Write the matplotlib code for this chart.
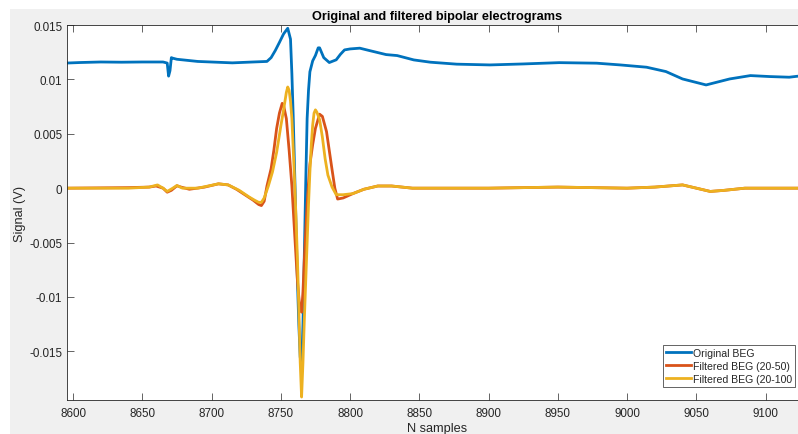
import matplotlib
matplotlib.use("Agg")
import matplotlib.pyplot as plt
from matplotlib.patches import Rectangle

plt.rcParams['font.family'] = ['Liberation Sans', 'DejaVu Sans']

# Original bipolar electrogram (V) at selected sample indices
orig_n = [8595, 8605, 8620, 8635, 8650, 8665, 8668, 8669, 8670, 8671, 8672, 8675,
          8690, 8715, 8730, 8740, 8743, 8746, 8749, 8752, 8755, 8757, 8758, 8759,
          8760, 8761, 8762, 8763, 8764, 8765, 8766, 8767, 8768, 8769, 8770, 8771,
          8773, 8775, 8777, 8778, 8781, 8785, 8790, 8793, 8796, 8800, 8807, 8814,
          8826, 8834, 8846, 8858, 8877, 8901, 8925, 8951, 8978, 8995, 9014, 9028,
          9040, 9057, 9074, 9089, 9103, 9117, 9125]
orig_v = [0.01150, 0.01155, 0.01160, 0.01158, 0.01160, 0.01160, 0.01150, 0.01030,
          0.01080, 0.01200, 0.01195, 0.01185, 0.01165, 0.01152, 0.01160, 0.01165,
          0.01200, 0.01265, 0.01340, 0.01418, 0.01470, 0.01370, 0.01050, 0.00640,
          0.00150, -0.00350, -0.00850, -0.01250, -0.01550, -0.01660, -0.01250,
          -0.00600, 0.00050, 0.00640, 0.00900, 0.01070, 0.01170, 0.01220, 0.01290,
          0.01290, 0.01200, 0.01155, 0.01180, 0.01230, 0.01271, 0.01280, 0.01287,
          0.01265, 0.01228, 0.01219, 0.01179, 0.01158, 0.01140, 0.01133, 0.01142,
          0.01154, 0.01149, 0.01133, 0.01112, 0.01072, 0.01004, 0.00949, 0.01004,
          0.01035, 0.01026, 0.01020, 0.01032]

# Band-pass filtered electrogram, 20-50 Hz
f50_n = [8595, 8640, 8655, 8660, 8665, 8668, 8671, 8675, 8678, 8684, 8695, 8705,
         8712, 8718, 8724, 8730, 8734, 8736, 8738, 8740, 8743, 8745, 8747, 8749,
         8751, 8752, 8754, 8756, 8758, 8760, 8762, 8763, 8764, 8765, 8766, 8767,
         8769, 8770, 8771, 8773, 8775, 8778, 8780, 8783, 8787, 8789, 8791, 8795,
         8802, 8810, 8820, 8830, 8845, 8900, 8950, 9000, 9020, 9040, 9050, 9060,
         9070, 9085, 9125]
f50_v = [0.0, 0.00005, 0.0001, 0.0002, 0.0, -0.00037, -0.0002, 0.00022, 0.0001,
         -0.0001, 0.0001, 0.0004, 0.0003, -0.0001, -0.0006, -0.0011, -0.0015,
         -0.0016, -0.0012, 0.0002, 0.0018, 0.0035, 0.0055, 0.0069, 0.0078, 0.0076,
         0.0064, 0.0035, 0.0002, -0.0042, -0.0085, -0.0100, -0.0112, -0.0114,
         -0.0095, -0.0065, -0.0015, 0.0005, 0.0022, 0.0040, 0.0055, 0.0068, 0.0066,
         0.0052, 0.0017, 0.0000, -0.0010, -0.0009, -0.0005, -0.0001, 0.0002, 0.0002,
         0.0, 0.0, 0.0001, 0.0, 0.0001, 0.0003, 0.0, -0.0003, -0.0002, 0.0, 0.0]

# Band-pass filtered electrogram, 20-100 Hz
f100_n = [8595, 8640, 8655, 8661, 8665, 8668, 8672, 8675, 8679, 8690, 8705, 8712,
          8720, 8727, 8731, 8734, 8736, 8738, 8741, 8744, 8747, 8750, 8752, 8754,
          8755, 8756, 8757, 8758, 8759, 8760, 8761, 8762, 8763, 8764, 8765, 8766,
          8767, 8768, 8769, 8770, 8771, 8772, 8773, 8774, 8775, 8776, 8778, 8780,
          8782, 8784, 8787, 8790, 8795, 8802, 8810, 8820, 8830, 8845, 8900, 8950,
          9000, 9020, 9040, 9050, 9060, 9070, 9085, 9125]
f100_v = [0.0, 0.0, 0.0001, 0.0003, 0.0, -0.0003, 0.0, 0.00025, 0.0, 0.0, 0.0004,
          0.0003, -0.0002, -0.0008, -0.0011, -0.0013, -0.0013, -0.0009, 0.0002,
          0.0015, 0.0033, 0.0057, 0.0072, 0.0088, 0.0093, 0.0090, 0.0080, 0.0064,
          0.0035, 0.0005, -0.0028, -0.0065, -0.0110, -0.0160, -0.0192, -0.0160,
          -0.0120, -0.0085, -0.0050, -0.0015, 0.0015, 0.0040, 0.0058, 0.0069,
          0.0072, 0.0070, 0.0063, 0.0047, 0.0027, 0.0012, 0.0001, -0.0006, -0.0006,
          -0.0005, -0.0001, 0.0002, 0.0002, 0.0, 0.0, 0.0001, 0.0, 0.0001, 0.0003,
          0.0, -0.0003, -0.0002, 0.0, 0.0]

labels = ['Original BEG', 'Filtered BEG (20-50)', 'Filtered BEG (20-100']
colors = ['#0072BD', '#D95319', '#EDB120']
xticks = [8600, 8650, 8700, 8750, 8800, 8850, 8900, 8950, 9000, 9050, 9100]
yticks = [-0.015, -0.01, -0.005, 0, 0.005, 0.01, 0.015]
yticklabels = ['-0.015', '-0.01', '-0.005', '0', '0.005', '0.01', '0.015']

W, H = 798, 435
fig = plt.figure(figsize=(W / 100, H / 100), dpi=100, facecolor='#f0f0f0')
# white border strip at top and left
fig.patches.append(Rectangle((0, 1 - 10 / H), 1, 10 / H, transform=fig.transFigure,
                             facecolor='white', edgecolor='none', zorder=0))
fig.patches.append(Rectangle((0, 0), 10 / W, 1, transform=fig.transFigure,
                             facecolor='white', edgecolor='none', zorder=0))

ax_l, ax_r, ax_t, ax_b = 66.5, 807.5, 26.0, 401.3
ax = fig.add_axes([ax_l / W, 1 - ax_b / H, (ax_r - ax_l) / W, (ax_b - ax_t) / H])
ax.set_facecolor('white')

for n, v, c, lab in zip([orig_n, f50_n, f100_n], [orig_v, f50_v, f100_v], colors, labels):
    ax.plot(n, v, color=c, lw=2.0, label=lab, solid_joinstyle='round')

ax.set_xlim(8595.3, 9130.2)
ax.set_ylim(-0.0195, 0.015)
ax.set_xticks(xticks)
ax.set_xticklabels([str(t) for t in xticks])
ax.set_yticks(yticks)
ax.set_yticklabels(yticklabels)

tc = '#262626'
ax.tick_params(direction='in', length=5, width=0.5, color=tc, labelcolor=tc,
               labelsize=8.35, top=True, right=True, pad=4.5)
ax.tick_params(axis='y', pad=3)
for s in ax.spines.values():
    s.set_color(tc)
    s.set_linewidth(0.6)

ax.set_title('Original and filtered bipolar electrograms', fontsize=9.2,
             fontweight='bold', color='black', pad=4)
ax.set_xlabel('N samples', fontsize=9.2, color=tc)
ax.set_ylabel('Signal (V)', fontsize=9.2, color=tc)
ax.xaxis.set_label_coords((437 - ax_l) / (ax_r - ax_l), -(423 - ax_b) / (ax_b - ax_t))
ax.yaxis.set_label_coords(-(ax_l - 25.5) / (ax_r - ax_l), 0.5)

leg = ax.legend(loc='upper left', bbox_to_anchor=(662.7 / W, 1 - 345.7 / H),
                bbox_transform=fig.transFigure, borderaxespad=0, fontsize=7.6,
                handlelength=2.4, handletextpad=0.15, labelspacing=0.28,
                borderpad=0.32, fancybox=False, framealpha=1)
leg.get_frame().set_edgecolor(tc)
leg.get_frame().set_linewidth(0.5)
for t in leg.get_texts():
    t.set_color(tc)

fig.savefig('out.png', dpi=100, facecolor=fig.get_facecolor())
